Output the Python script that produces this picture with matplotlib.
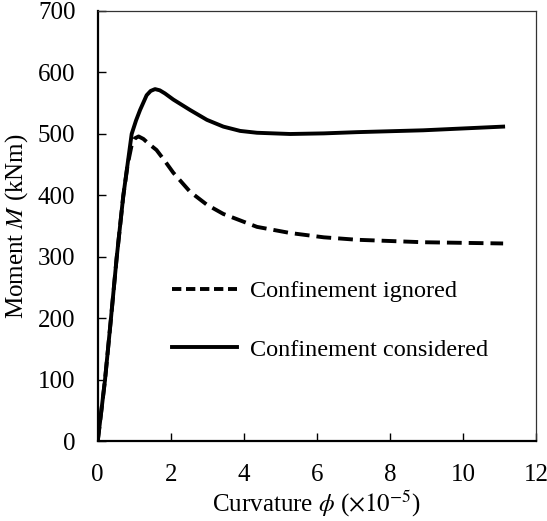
import matplotlib
matplotlib.use("Agg")
import matplotlib.pyplot as plt
from matplotlib.lines import Line2D

plt.rcParams['font.family'] = 'Liberation Serif'
plt.rcParams['mathtext.fontset'] = 'stix'
plt.rcParams['font.size'] = 18

# curvature (x1e-5) and moment (kNm)
phi_considered = [0, 0.20, 0.36, 0.52, 0.70, 0.93, 1.05, 1.16, 1.34, 1.45, 1.57, 1.70, 1.84,
                  2.07, 2.53, 2.99, 3.44, 3.90, 4.36, 5.27, 6.19, 7.10, 8.91, 11.1]
m_considered = [0, 100, 198, 299, 399, 500, 522, 539, 563, 570, 573, 571, 566,
                556, 539, 523, 512, 505, 502, 500, 501, 503, 506, 512]

phi_ignored = [0, 0.20, 0.36, 0.52, 0.70, 0.82, 0.93, 1.02, 1.12, 1.25, 1.40, 1.61, 1.84,
               2.07, 2.53, 2.99, 3.44, 4.36, 5.27, 6.19, 7.10, 8.91, 11.1]
m_ignored = [0, 100, 198, 299, 399, 450, 482, 493, 496, 492, 484, 474, 456,
             437, 406, 385, 370, 349, 339, 332, 328, 324, 322]

labels = ['Confinement ignored', 'Confinement considered']

fig = plt.figure(figsize=(5.47, 5.21), dpi=100)
ax = fig.add_axes([0.1786, 0.1526, 0.8013, 0.8263])

ax.plot(phi_ignored, m_ignored, color='black', lw=2.8, ls=(0, (3.8, 1.8)))
ax.plot(phi_considered, m_considered, color='black', lw=2.8)

ax.set_xlim(0, 12)
ax.set_ylim(0, 700)
ax.set_xticks(range(0, 13, 2))
ax.set_yticks(range(0, 701, 100))
for s in ['left', 'bottom']:
    ax.spines[s].set_linewidth(1.6)
for s in ['top', 'right']:
    ax.spines[s].set_linewidth(0.9)
    ax.spines[s].set_color('#333333')
ax.tick_params(direction='in', length=6, width=1, pad=16)

ax.set_xlabel(r'Curvature $\phi$ ($\times 10^{-5}$)', labelpad=2)
ax.set_ylabel(r'Moment $M$ (kNm)', labelpad=5.5)

# legend handles use shorter dashes, as in the original
handles = [Line2D([], [], color='black', lw=2.8, ls=(0, (2.4, 1.2))),
           Line2D([], [], color='black', lw=2.8)]
ax.legend(handles, labels, loc='center left', bbox_to_anchor=(0.169, 0.281),
          frameon=False, borderpad=0, borderaxespad=0, handlelength=2.7,
          handletextpad=0.5, labelspacing=1.5, fontsize=17.5)

fig.savefig('out.png', dpi=100)
